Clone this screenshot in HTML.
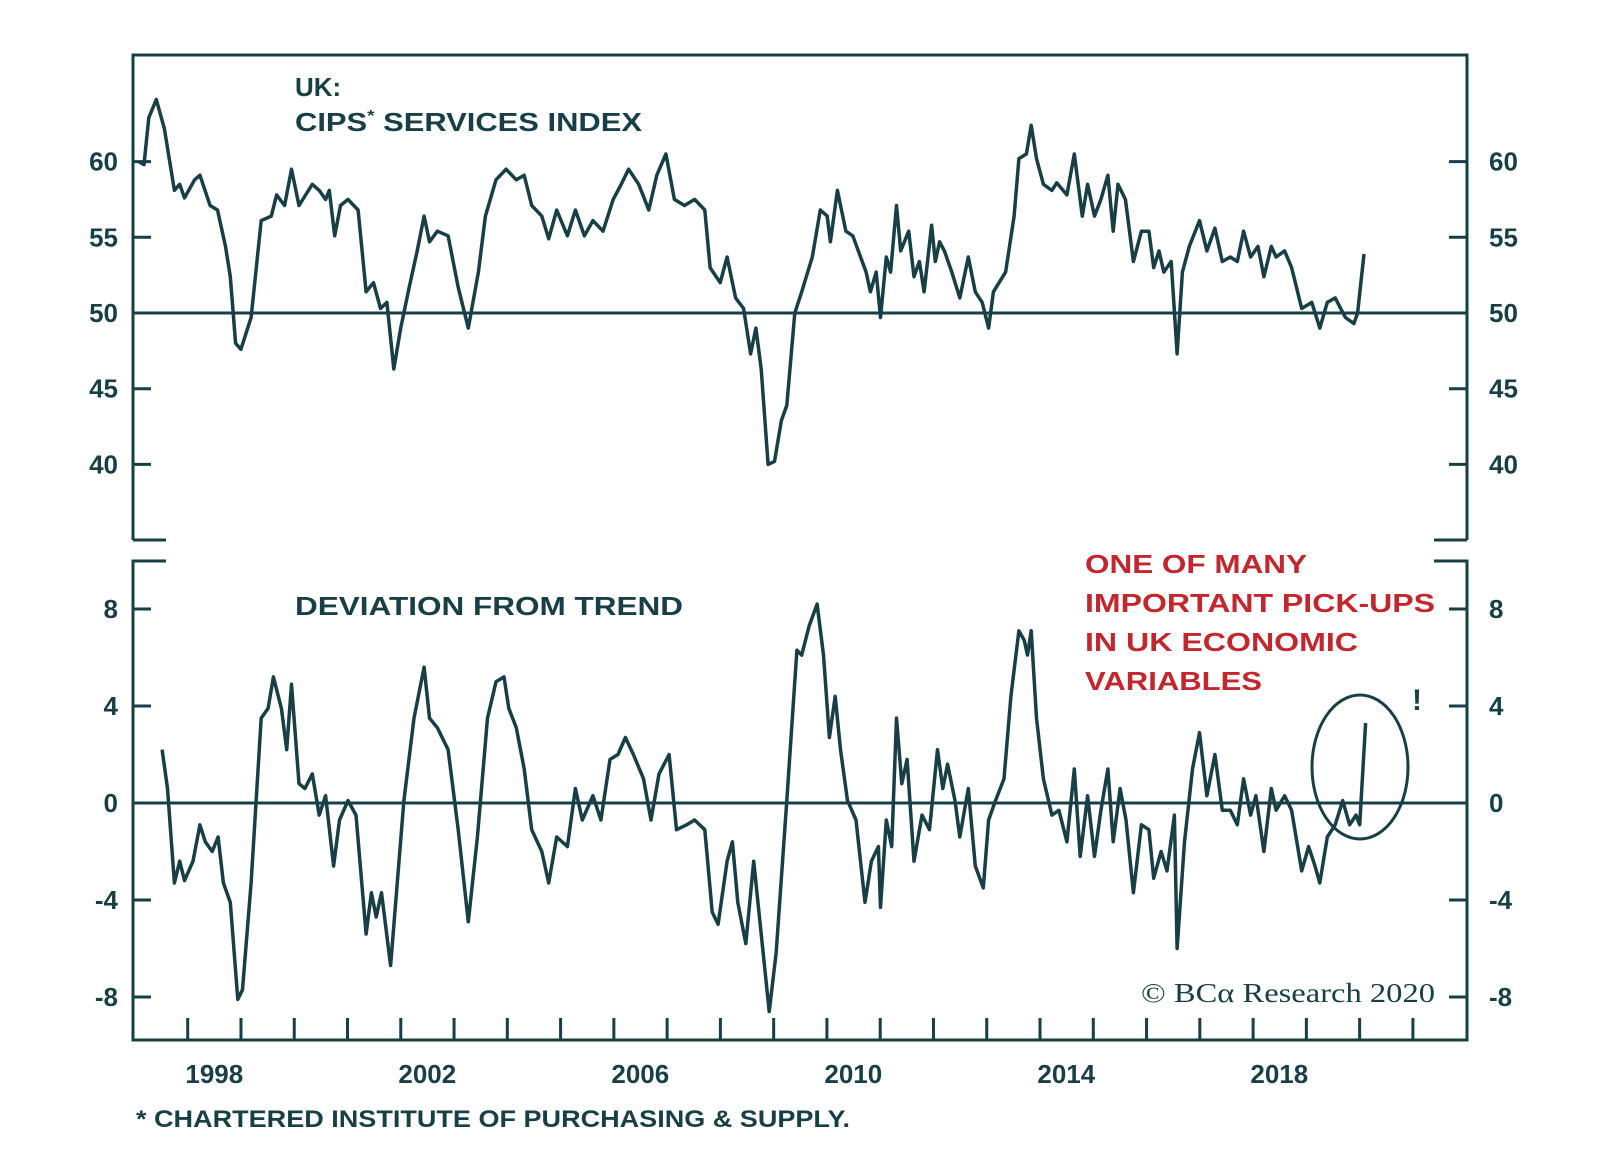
<!DOCTYPE html>
<html><head><meta charset="utf-8"><style>
html,body{margin:0;padding:0;background:#fff;}
svg{display:block;}
text{font-family:"Liberation Sans",sans-serif;font-weight:bold;fill:#173f45;}
</style></head><body>
<svg id="chart" width="1600" height="1168" viewBox="0 0 1600 1168">
  <g id="frame" stroke="#173f45" stroke-width="3" fill="none"></g>
  <g id="axes"></g>
  <g id="series"></g>
  <text x="295" y="96" font-size="26">UK:</text>
  <text x="295" y="131" font-size="26" textLength="347" lengthAdjust="spacingAndGlyphs">CIPS<tspan font-size="16" dy="-10">*</tspan><tspan dy="10"> SERVICES INDEX</tspan></text>
  <text x="295" y="615" font-size="26" textLength="388" lengthAdjust="spacingAndGlyphs">DEVIATION FROM TREND</text>
  <g font-size="26">
    <text x="1085" y="573" style="fill:#c1272d" textLength="222" lengthAdjust="spacingAndGlyphs">ONE OF MANY</text>
    <text x="1085" y="612" style="fill:#c1272d" textLength="350" lengthAdjust="spacingAndGlyphs">IMPORTANT PICK-UPS</text>
    <text x="1085" y="651" style="fill:#c1272d" textLength="273" lengthAdjust="spacingAndGlyphs">IN UK ECONOMIC</text>
    <text x="1085" y="690" style="fill:#c1272d" textLength="177" lengthAdjust="spacingAndGlyphs">VARIABLES</text>
  </g>
  <text x="1412" y="710" font-size="30">!</text>
  <ellipse cx="1360" cy="767" rx="48" ry="72" fill="none" stroke="#173f45" stroke-width="3"/>
  <text x="1141" y="1002" font-size="27" style="font-family:'Liberation Serif',serif;font-weight:normal" textLength="294" lengthAdjust="spacingAndGlyphs">© BCα Research 2020</text>
  <text x="136" y="1127" font-size="24" textLength="714" lengthAdjust="spacingAndGlyphs">* CHARTERED INSTITUTE OF PURCHASING &amp; SUPPLY.</text>
</svg>
<script>
const topYears=[1997.08,1997.18,1997.27,1997.41,1997.56,1997.75,1997.85,1997.94,1998.13,1998.23,1998.42,1998.56,1998.71,1998.80,1998.90,1999.00,1999.19,1999.38,1999.57,1999.67,1999.82,1999.95,2000.09,2000.34,2000.47,2000.59,2000.66,2000.76,2000.87,2001.01,2001.20,2001.35,2001.49,2001.62,2001.74,2001.87,2002.00,2002.16,2002.31,2002.44,2002.54,2002.69,2002.89,2003.08,2003.27,2003.46,2003.59,2003.79,2003.98,2004.17,2004.32,2004.46,2004.65,2004.78,2004.93,2005.13,2005.28,2005.45,2005.61,2005.80,2005.99,2006.14,2006.28,2006.47,2006.66,2006.81,2006.98,2007.14,2007.33,2007.52,2007.71,2007.81,2008.00,2008.13,2008.29,2008.44,2008.57,2008.67,2008.77,2008.90,2009.02,2009.15,2009.25,2009.40,2009.53,2009.73,2009.88,2010.01,2010.07,2010.20,2010.36,2010.49,2010.74,2010.82,2010.93,2011.01,2011.12,2011.20,2011.31,2011.39,2011.54,2011.64,2011.74,2011.83,2011.97,2012.04,2012.12,2012.21,2012.35,2012.50,2012.66,2012.79,2012.92,2013.04,2013.13,2013.36,2013.52,2013.61,2013.75,2013.84,2013.94,2014.07,2014.23,2014.32,2014.51,2014.65,2014.80,2014.90,2015.03,2015.15,2015.28,2015.38,2015.47,2015.61,2015.76,2015.91,2016.05,2016.14,2016.24,2016.33,2016.47,2016.58,2016.68,2016.81,2017.00,2017.14,2017.29,2017.43,2017.58,2017.71,2017.83,2017.96,2018.10,2018.21,2018.35,2018.44,2018.60,2018.73,2018.92,2019.11,2019.26,2019.40,2019.55,2019.74,2019.90,2019.97,2020.09];
const topValues=[60.0,59.8,62.9,64.1,62.2,58.1,58.5,57.6,58.8,59.1,57.1,56.8,54.4,52.4,48.0,47.6,49.7,56.1,56.4,57.8,57.1,59.5,57.1,58.5,58.1,57.5,58.1,55.1,57.1,57.5,56.8,51.4,52.0,50.3,50.7,46.3,49.0,51.7,54.1,56.4,54.7,55.4,55.1,51.7,49.0,52.7,56.4,58.8,59.5,58.8,59.1,57.1,56.4,54.9,56.8,55.1,56.8,55.1,56.1,55.4,57.5,58.5,59.5,58.5,56.8,59.1,60.5,57.5,57.1,57.5,56.8,53.0,52.0,53.7,51.0,50.3,47.3,49.0,46.3,40.0,40.2,42.9,43.9,50.0,51.4,53.7,56.8,56.4,54.7,58.1,55.4,55.1,52.7,51.4,52.7,49.7,53.7,52.7,57.1,54.1,55.4,52.4,53.4,51.4,55.8,53.4,54.7,54.1,52.7,51.0,53.7,51.4,50.7,49.0,51.4,52.7,56.4,60.2,60.5,62.4,60.2,58.5,58.1,58.6,57.8,60.5,56.4,58.5,56.4,57.5,59.1,55.4,58.5,57.5,53.4,55.4,55.4,53.0,54.1,52.7,53.4,47.3,52.7,54.4,56.1,54.1,55.6,53.4,53.7,53.4,55.4,53.7,54.4,52.4,54.4,53.7,54.1,53.0,50.3,50.7,49.0,50.7,51.0,49.7,49.3,50.0,53.9];
const devYears=[1997.52,1997.62,1997.75,1997.85,1997.94,1998.10,1998.23,1998.33,1998.46,1998.57,1998.67,1998.80,1998.94,1999.03,1999.19,1999.38,1999.51,1999.61,1999.76,1999.86,1999.95,2000.09,2000.20,2000.34,2000.47,2000.59,2000.74,2000.85,2001.01,2001.16,2001.35,2001.45,2001.54,2001.64,2001.81,2002.06,2002.25,2002.44,2002.54,2002.69,2002.89,2003.08,2003.27,2003.44,2003.63,2003.79,2003.94,2004.03,2004.17,2004.32,2004.46,2004.65,2004.78,2004.93,2005.13,2005.28,2005.41,2005.61,2005.76,2005.93,2006.08,2006.22,2006.37,2006.56,2006.70,2006.85,2007.04,2007.18,2007.37,2007.52,2007.71,2007.85,2007.96,2008.13,2008.23,2008.33,2008.48,2008.63,2008.77,2008.92,2009.05,2009.25,2009.44,2009.53,2009.67,2009.82,2009.94,2010.05,2010.16,2010.26,2010.39,2010.55,2010.72,2010.84,2010.97,2011.01,2011.12,2011.22,2011.31,2011.41,2011.51,2011.64,2011.79,2011.93,2012.08,2012.18,2012.27,2012.41,2012.50,2012.66,2012.79,2012.94,2013.04,2013.17,2013.33,2013.46,2013.61,2013.71,2013.77,2013.84,2013.94,2014.07,2014.23,2014.36,2014.51,2014.65,2014.76,2014.90,2015.03,2015.15,2015.28,2015.38,2015.51,2015.62,2015.76,2015.91,2016.05,2016.14,2016.28,2016.39,2016.53,2016.58,2016.72,2016.87,2017.00,2017.14,2017.29,2017.43,2017.58,2017.71,2017.83,2017.96,2018.06,2018.21,2018.35,2018.44,2018.60,2018.73,2018.92,2019.05,2019.17,2019.26,2019.40,2019.55,2019.69,2019.82,2019.94,2020.01,2020.12];
const devValues=[2.2,0.6,-3.3,-2.4,-3.2,-2.4,-0.9,-1.6,-2.0,-1.4,-3.3,-4.1,-8.1,-7.7,-3.3,3.5,3.9,5.2,3.9,2.2,4.9,0.8,0.6,1.2,-0.5,0.3,-2.6,-0.7,0.1,-0.5,-5.4,-3.7,-4.7,-3.7,-6.7,0.1,3.5,5.6,3.5,3.1,2.2,-1.1,-4.9,-1.4,3.5,5.0,5.2,3.9,3.1,1.4,-1.1,-2.0,-3.3,-1.4,-1.8,0.6,-0.7,0.3,-0.7,1.8,2.0,2.7,2.0,1.0,-0.7,1.2,2.0,-1.1,-0.9,-0.7,-1.1,-4.5,-5.0,-2.4,-1.6,-4.1,-5.8,-2.4,-5.4,-8.6,-6.2,0.1,6.3,6.1,7.3,8.2,6.1,2.7,4.4,2.2,0.1,-0.7,-4.1,-2.4,-1.8,-4.3,-0.7,-1.8,3.5,0.8,1.8,-2.4,-0.5,-1.1,2.2,0.6,1.6,0.1,-1.4,0.6,-2.6,-3.5,-0.7,0.1,1.0,4.4,7.1,6.7,6.1,7.1,3.5,1.0,-0.5,-0.3,-1.6,1.4,-2.2,0.3,-2.2,-0.3,1.4,-1.6,0.6,-0.7,-3.7,-0.9,-1.1,-3.1,-2.0,-2.8,-0.5,-6.0,-1.6,1.4,2.9,0.3,2.0,-0.3,-0.3,-0.9,1.0,-0.5,0.3,-2.0,0.6,-0.3,0.3,-0.3,-2.8,-1.8,-2.6,-3.3,-1.4,-0.9,0.1,-0.9,-0.5,-0.9,3.3];
const topTicks=[40,45,50,55,60];
const devTicks=[-8,-4,0,4,8];
const yearLabels=[1998,2002,2006,2010,2014,2018];

const NS='http://www.w3.org/2000/svg';
const L=133,R=1467;
const xS=y=>187.7+(y-1998)*53.25;
const yTop=v=>313-(v-50)*15.14;
const yDev=v=>803-v*24.25;
const C='#173f45';
function mk(tag,attrs,parent){const e=document.createElementNS(NS,tag);for(const k in attrs)e.setAttribute(k,attrs[k]);parent.appendChild(e);return e;}
const frame=document.getElementById('frame'),axes=document.getElementById('axes'),series=document.getElementById('series');
const fp=mk('path',{d:`M${L},540 V55 H${R} V540 M${L},540 H166 M${R},540 H1434 M166,561 H${L} V1040 H${R} V561 H1434`},frame);



topTicks.forEach(v=>{
  const y=yTop(v);
  const t=mk('path',{d:`M${L},${y} h18 M${R},${y} h-18`,stroke:C,'stroke-width':3},axes);
  
  
  const a=mk('text',{x:118,y:y+9,'font-size':26,'text-anchor':'end'},axes);a.textContent=v;
  
  
  const b=mk('text',{x:1489,y:y+9,'font-size':26},axes);b.textContent=v;
  
  
});
devTicks.forEach(v=>{
  const y=yDev(v);
  const t=mk('path',{d:`M${L},${y} h18 M${R},${y} h-18`,stroke:C,'stroke-width':3},axes);
  
  
  const a=mk('text',{x:118,y:y+9,'font-size':26,'text-anchor':'end'},axes);a.textContent=v;
  
  
  const b=mk('text',{x:1489,y:y+9,'font-size':26},axes);b.textContent=v;
  
  
});
for(let yr=1998;yr<=2021;yr++){
  const x=187.7+(yr-1998)*53.27;
  const t=mk('line',{x1:x,x2:x,y1:1040,y2:1018,stroke:C,'stroke-width':3},axes);
  
  
}
yearLabels.forEach(yr=>{
  const t=mk('text',{x:xS(yr+0.5),y:1083,'font-size':26,'text-anchor':'middle'},axes);t.textContent=yr;
  
  
});
const r1=mk('line',{x1:L,x2:R,y1:yTop(50),y2:yTop(50),stroke:C,'stroke-width':3},axes);


const r2=mk('line',{x1:L,x2:R,y1:yDev(0),y2:yDev(0),stroke:C,'stroke-width':3},axes);



const p1=mk('path',{d:topYears.map((y,i)=>(i?'L':'M')+xS(y).toFixed(1)+','+yTop(topValues[i]).toFixed(1)).join(''),fill:'none',stroke:C,'stroke-width':3.5,'stroke-linejoin':'round'},series);


const p2=mk('path',{d:devYears.map((y,i)=>(i?'L':'M')+xS(y).toFixed(1)+','+yDev(devValues[i]).toFixed(1)).join(''),fill:'none',stroke:C,'stroke-width':3.5,'stroke-linejoin':'round'},series);


</script>
</body></html>
